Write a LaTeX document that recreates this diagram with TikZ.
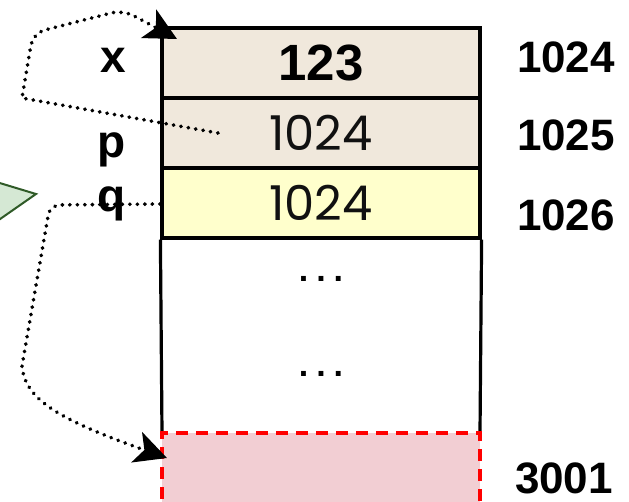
\documentclass[tikz,border=0pt]{standalone}
\usepackage{fontspec}
\setmainfont{Liberation Sans}
\newfontfamily\valfont{Poppins}
\usetikzlibrary{arrows.meta}
\definecolor{beigec}{HTML}{F0E8DC}
\definecolor{yellowc}{HTML}{FFFFCC}
\definecolor{pinkc}{HTML}{F2CED3}
\definecolor{trifill}{HTML}{D5E8D4}
\definecolor{tridraw}{HTML}{2F5A27}
\definecolor{valtext}{HTML}{111111}
\begin{document}
\begin{tikzpicture}[x=1pt,y=-1pt,
  cell/.style={draw=black,line width=3.2pt,inner sep=0pt,minimum width=318pt,minimum height=70pt},
  lbl/.style={font=\fontsize{46}{50}\selectfont\bfseries,anchor=base},
  addr/.style={font=\fontsize{44}{50}\selectfont\bfseries,anchor=base},
  val/.style={font=\valfont\fontsize{48}{52}\selectfont,text=valtext},
  conn/.style={line width=3.8pt,dash pattern=on 0.3pt off 7.2pt,line cap=round,
    -{Stealth[length=32pt,width=32pt,inset=8pt]}},
  dotsnode/.style={font=\fontsize{34}{34}\selectfont\bfseries,anchor=base},
  side/.style={line width=3.2pt}
]
\useasboundingbox (0,0) rectangle (629,501);
\clip (0,0) rectangle (629,501);
% green triangle
\filldraw[fill=trifill,draw=tridraw,line width=2pt] (-30,174) -- (36,194) -- (-30,240) -- cycle;
% cells
\node[cell,fill=beigec] (r1) at (321,63) {\fontsize{51}{54}\selectfont\bfseries 123};
\node[cell,fill=beigec] (r2) at (321,133) {};
\node[val] (v2) at (321,133) {1024};
\node[cell,fill=yellowc] (r3) at (321,203) {};
\node[val] (v3) at (321,203) {1024};
\coordinate (m1) at (162,433);
\coordinate (m2) at (480,433);
\draw[side] (r3.south west) -- (m1);
\draw[side] (r3.south east) -- (m2);
\node[cell,draw=red,dash pattern=on 12pt off 8pt,fill=pinkc,minimum height=90pt] (r4) at (321,478) {};
% dots
\node[dotsnode] (d1) at (321,281) {.\hspace{8pt}.\hspace{8pt}.};
\node[dotsnode] (d2) at (321,376) {.\hspace{8pt}.\hspace{8pt}.};
% labels
\node[lbl] (lx) at (113,72) {x};
\node[lbl] (lp) at (112,157) {p};
\node[lbl] (lq) at (112,211) {q};
\node[addr] (a1) at (566,72) {1024};
\node[addr] (a2) at (566,150) {1025};
\node[addr] (a3) at (566,230) {1026};
\node[addr] (a4) at (564,493) {3001};
% connectors
\coordinate (ps) at (218,133);
\coordinate (xe) at (177,39);
\coordinate (qs) at (160,204);
\coordinate (qe) at (167,458);
\draw[conn] (ps) -- (22,98) [rounded corners=12pt] -- (33,33) -- (123,10) -- (xe);
\draw[conn] (qs) [rounded corners=10pt] -- (50,205) [sharp corners] -- (22,366) .. controls (25,400) and (60,420) .. (qe);
\end{tikzpicture}
\end{document}
